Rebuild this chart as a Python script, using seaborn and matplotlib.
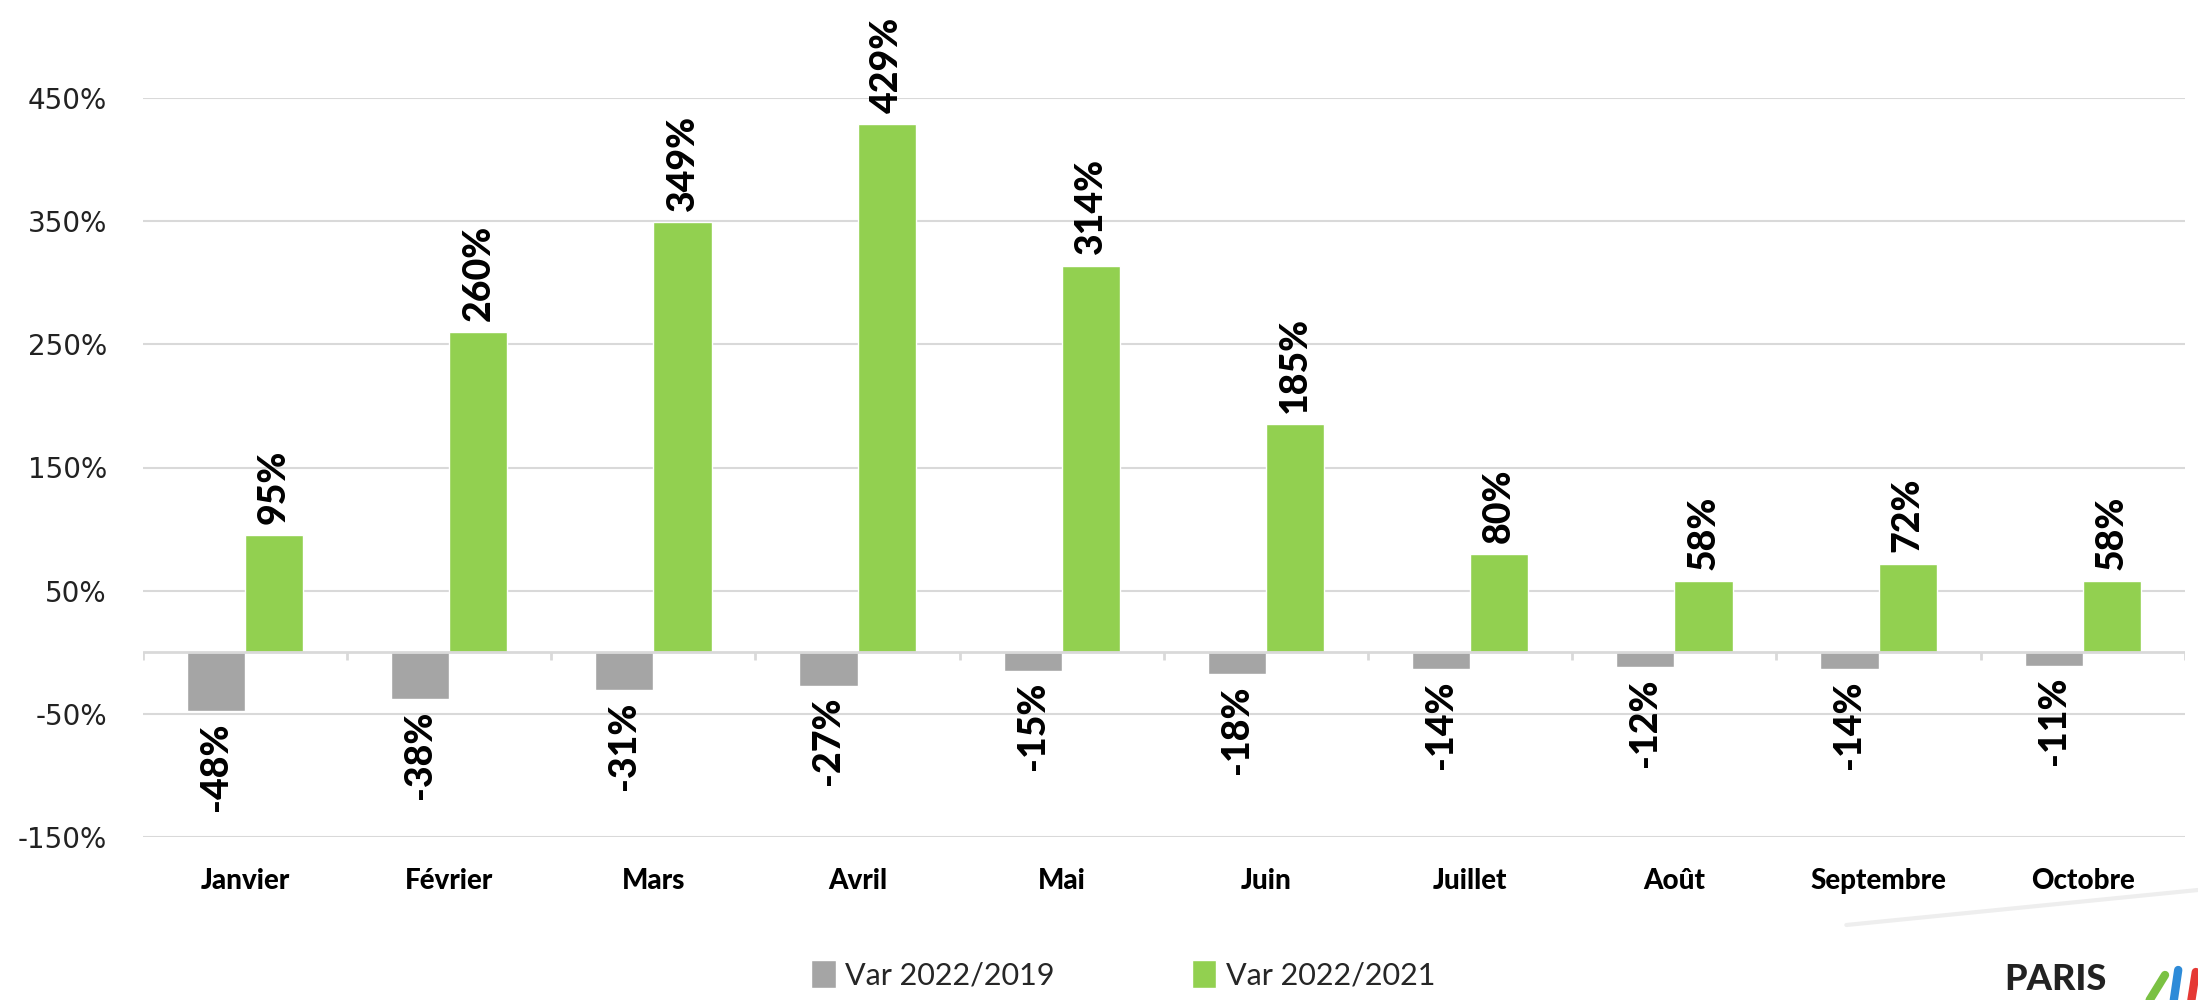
import numpy as np
import pandas as pd
import seaborn as sns
import matplotlib.pyplot as plt
from matplotlib.lines import Line2D

# data
mois = ['Janvier', 'Février', 'Mars', 'Avril', 'Mai', 'Juin',
        'Juillet', 'Août', 'Septembre', 'Octobre']
var_2019 = [-48, -38, -31, -27, -15, -18, -14, -12, -14, -11]
var_2021 = [95, 260, 349, 429, 314, 185, 80, 58, 72, 58]
series = ['Var 2022/2019', 'Var 2022/2021']
couleurs = ['#A5A5A5', '#92D050']
yticks = [-150, -50, 50, 150, 250, 350, 450]

df = pd.DataFrame({
    'mois': mois * 2,
    'var': var_2019 + var_2021,
    'serie': [series[0]] * len(mois) + [series[1]] * len(mois),
})

sns.set_theme(style='white')
plt.rcParams['font.family'] = ['Lato', 'DejaVu Sans']

fig = plt.figure(figsize=(21.98, 10), dpi=100)
ax = fig.add_axes([0.065, 0.163, 0.929, 0.739])

sns.barplot(data=df, x='mois', y='var', hue='serie', order=mois,
            hue_order=series, palette=couleurs, width=0.57,
            saturation=1, ax=ax, legend=True)

# value labels, rotated like the original
for cont in ax.containers:
    vals = cont.datavalues
    ax.bar_label(cont, labels=[f'{v:.0f}%' for v in vals], rotation=90,
                 padding=8, fontsize=27, fontweight='black', color='black',
                 clip_on=False)

ax.set_xlim(-0.5, len(mois) - 0.5)
ax.set_ylim(-150, 450)
ax.set_yticks(yticks)
ax.set_yticklabels([f'{v}%' for v in yticks], fontsize=20,
                   family='DejaVu Sans', color='#222222')
ax.tick_params(axis='y', length=0, pad=26)
ax.tick_params(axis='x', length=0, pad=22)
for lab in ax.get_xticklabels():
    lab.set_fontsize(20)
    lab.set_fontweight('black')
    lab.set_color('black')
ax.set_xlabel('')
ax.set_ylabel('')

ax.yaxis.grid(True, color='#D9D9D9', lw=1.5)
ax.set_axisbelow(True)
for s in ax.spines.values():
    s.set_visible(False)

# zero line with category separators
ax.axhline(0, color='#D9D9D9', lw=2, zorder=1)
bornes = np.arange(len(mois) + 1) - 0.5
ax.vlines(bornes, -6, 0, color='#D9D9D9', lw=2, zorder=1)

handles, labels = ax.get_legend_handles_labels()
ax.legend(handles, labels, loc='center', bbox_to_anchor=(0.511, 0.025),
          bbox_transform=fig.transFigure, ncol=2, frameon=False,
          fontsize=22, handlelength=0.8, handleheight=1.0,
          handletextpad=0.3, columnspacing=4.5)

# logo fragment, bottom right
fig.add_artist(Line2D([0.84, 1.0], [0.075, 0.11], color='#EEEEEE', lw=3))
fig.text(0.935, 0.004, 'PARIS', fontsize=26, fontweight='black',
         color='#222222', ha='center', va='bottom')
fig.add_artist(Line2D([0.978, 0.985], [0.0, 0.025], color='#7AC143', lw=6))
fig.add_artist(Line2D([0.989, 0.991], [0.0, 0.03], color='#2E8BD8', lw=6))
fig.add_artist(Line2D([0.997, 0.999], [0.0, 0.028], color='#E53935', lw=6))

fig.savefig('out.png', dpi=100)
